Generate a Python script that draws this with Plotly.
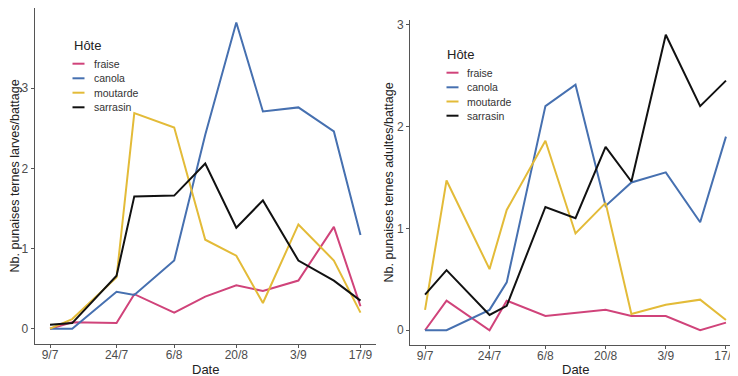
import plotly.graph_objects as go
import pandas as pd

# ---------------- data ----------------
dates = ["2020-07-09", "2020-07-14", "2020-07-24", "2020-07-28", "2020-08-06",
         "2020-08-13", "2020-08-20", "2020-08-26", "2020-09-03", "2020-09-11", "2020-09-17"]
hosts = ["fraise", "canola", "moutarde", "sarrasin"]

larves_fraise = [0.0, 0.08, 0.07, 0.43, 0.20, 0.40, 0.54, 0.47, 0.60, 1.27, 0.28]
larves_canola = [0.0, 0.0, 0.46, 0.42, 0.85, 2.42, 3.82, 2.71, 2.76, 2.46, 1.17]
larves_moutarde = [0.0, 0.12, 0.64, 2.69, 2.51, 1.11, 0.91, 0.32, 1.30, 0.85, 0.20]
larves_sarrasin = [0.05, 0.07, 0.66, 1.65, 1.66, 2.06, 1.26, 1.60, 0.85, 0.60, 0.35]

adultes_fraise = [0.0, 0.29, 0.0, 0.29, 0.14, 0.17, 0.20, 0.14, 0.14, 0.0, 0.075]
adultes_canola = [0.0, 0.0, 0.20, 0.47, 2.20, 2.41, 1.22, 1.45, 1.55, 1.06, 1.90]
adultes_moutarde = [0.20, 1.47, 0.60, 1.18, 1.86, 0.95, 1.25, 0.16, 0.25, 0.30, 0.10]
adultes_sarrasin = [0.35, 0.59, 0.15, 0.24, 1.21, 1.10, 1.80, 1.46, 2.90, 2.20, 2.45]

tick_dates = ["2020-07-09", "2020-07-24", "2020-08-06", "2020-08-20", "2020-09-03", "2020-09-17"]
tick_labels = ["9/7", "24/7", "6/8", "20/8", "3/9", "17/9"]
y_ticks = [0, 1, 2, 3]

# ---------------- style ----------------
colors = {"fraise": "#D0437A", "canola": "#4670B0", "moutarde": "#E3BB38", "sarrasin": "#111111"}
OFF = 8                       # default page body margin
W, H = 738 - OFF, 376 - OFF
FONT = "Liberation Sans, Arial, sans-serif"
AXC = "#555555"
TICKC = "#4d4d4d"

def px(x):
    return min(1.0, max(0.0, (x - OFF) / W))

def py(y):
    return min(1.0, max(0.0, 1 - (y - OFF) / H))

larves = dict(zip(hosts, [larves_fraise, larves_canola, larves_moutarde, larves_sarrasin]))
adultes = dict(zip(hosts, [adultes_fraise, adultes_canola, adultes_moutarde, adultes_sarrasin]))

fig = go.Figure()
for h in hosts:
    fig.add_trace(go.Scatter(x=dates, y=larves[h], mode="lines", name=h,
                             line=dict(color=colors[h], width=2), xaxis="x", yaxis="y",
                             showlegend=False))
for h in hosts:
    fig.add_trace(go.Scatter(x=dates, y=adultes[h], mode="lines", name=h,
                             line=dict(color=colors[h], width=2), xaxis="x2", yaxis="y2",
                             showlegend=False))

d0 = pd.Timestamp(dates[0])
d1 = pd.Timestamp(dates[-1])
left_range = [d0 - pd.Timedelta(days=3.5), d1 + pd.Timedelta(days=3.5)]
right_range = [d0 - pd.Timedelta(days=3.5), d1 + pd.Timedelta(days=2.8)]

xcommon = dict(type="date", tickvals=tick_dates, ticktext=tick_labels, showgrid=False,
               zeroline=False, showline=True, linecolor=AXC, linewidth=1, ticks="outside",
               ticklen=3, tickcolor=AXC, tickfont=dict(size=12, color=TICKC, family=FONT),
               ticklabelstandoff=-3, automargin=False)
ycommon = dict(tickvals=y_ticks, showgrid=False, zeroline=False, showline=True, linecolor=AXC,
               linewidth=1, ticks="outside", ticklen=3, tickcolor=AXC,
               tickfont=dict(size=12, color=TICKC, family=FONT), automargin=False)

fig.update_layout(
    width=W, height=H, margin=dict(l=0, r=0, t=0, b=0),
    paper_bgcolor="white", plot_bgcolor="white", showlegend=False,
    font=dict(family=FONT),
    xaxis=dict(domain=[px(34.5), px(376)], range=[str(left_range[0]), str(left_range[1])],
               anchor="y", **xcommon),
    yaxis=dict(domain=[py(344), py(8)], range=[-0.191, 4.0], anchor="x", **ycommon),
    xaxis2=dict(domain=[px(410), 1.0], range=[str(right_range[0]), str(right_range[1])],
                anchor="y2", **xcommon),
    yaxis2=dict(domain=[py(345), py(20)], range=[-0.145, 3.045], anchor="x2", **ycommon),
)

ann = []
title_font = dict(size=13, color="#222222", family=FONT)
ytitle_font = dict(size=12.5, color="#222222", family=FONT)
# axis titles
ann.append(dict(x=px(205.5), y=py(369), xref="paper", yref="paper", text="Date", showarrow=False,
                xanchor="center", yanchor="middle", font=title_font))
ann.append(dict(x=px(575.5), y=py(369), xref="paper", yref="paper", text="Date", showarrow=False,
                xanchor="center", yanchor="middle", font=title_font))
ann.append(dict(x=px(14.5), y=py(176), xref="paper", yref="paper",
                text="Nb. punaises ternes larves/battage", textangle=-90, showarrow=False,
                xanchor="center", yanchor="middle", font=ytitle_font))
ann.append(dict(x=px(388.5), y=py(183), xref="paper", yref="paper",
                text="Nb. punaises ternes adultes/battage", textangle=-90, showarrow=False,
                xanchor="center", yanchor="middle", font=ytitle_font))

shapes = []
# manual legends (ggplot style)
legends = [
    dict(tx=71.5, ty=45, lx0=72.5, lx1=84.5, labx=91.5, ys=[63.7, 78.3, 92.7, 107.3]),
    dict(tx=445, ty=54.3, lx0=446.5, lx1=458.5, labx=465.5, ys=[72.7, 87.3, 101.5, 115.7]),
]
for lg in legends:
    ann.append(dict(x=px(lg["tx"]), y=py(lg["ty"]), xref="paper", yref="paper", text="Hôte",
                    showarrow=False, xanchor="left", yanchor="middle", font=title_font))
    for h, yy in zip(hosts, lg["ys"]):
        shapes.append(dict(type="line", xref="paper", yref="paper", x0=px(lg["lx0"]), x1=px(lg["lx1"]),
                           y0=py(yy), y1=py(yy), line=dict(color=colors[h], width=2)))
        ann.append(dict(x=px(lg["labx"]), y=py(yy), xref="paper", yref="paper", text=h,
                        showarrow=False, xanchor="left", yanchor="middle",
                        font=dict(size=10.5, color="#333333", family=FONT)))

fig.update_layout(annotations=ann, shapes=shapes)
fig.write_html("out.html")
